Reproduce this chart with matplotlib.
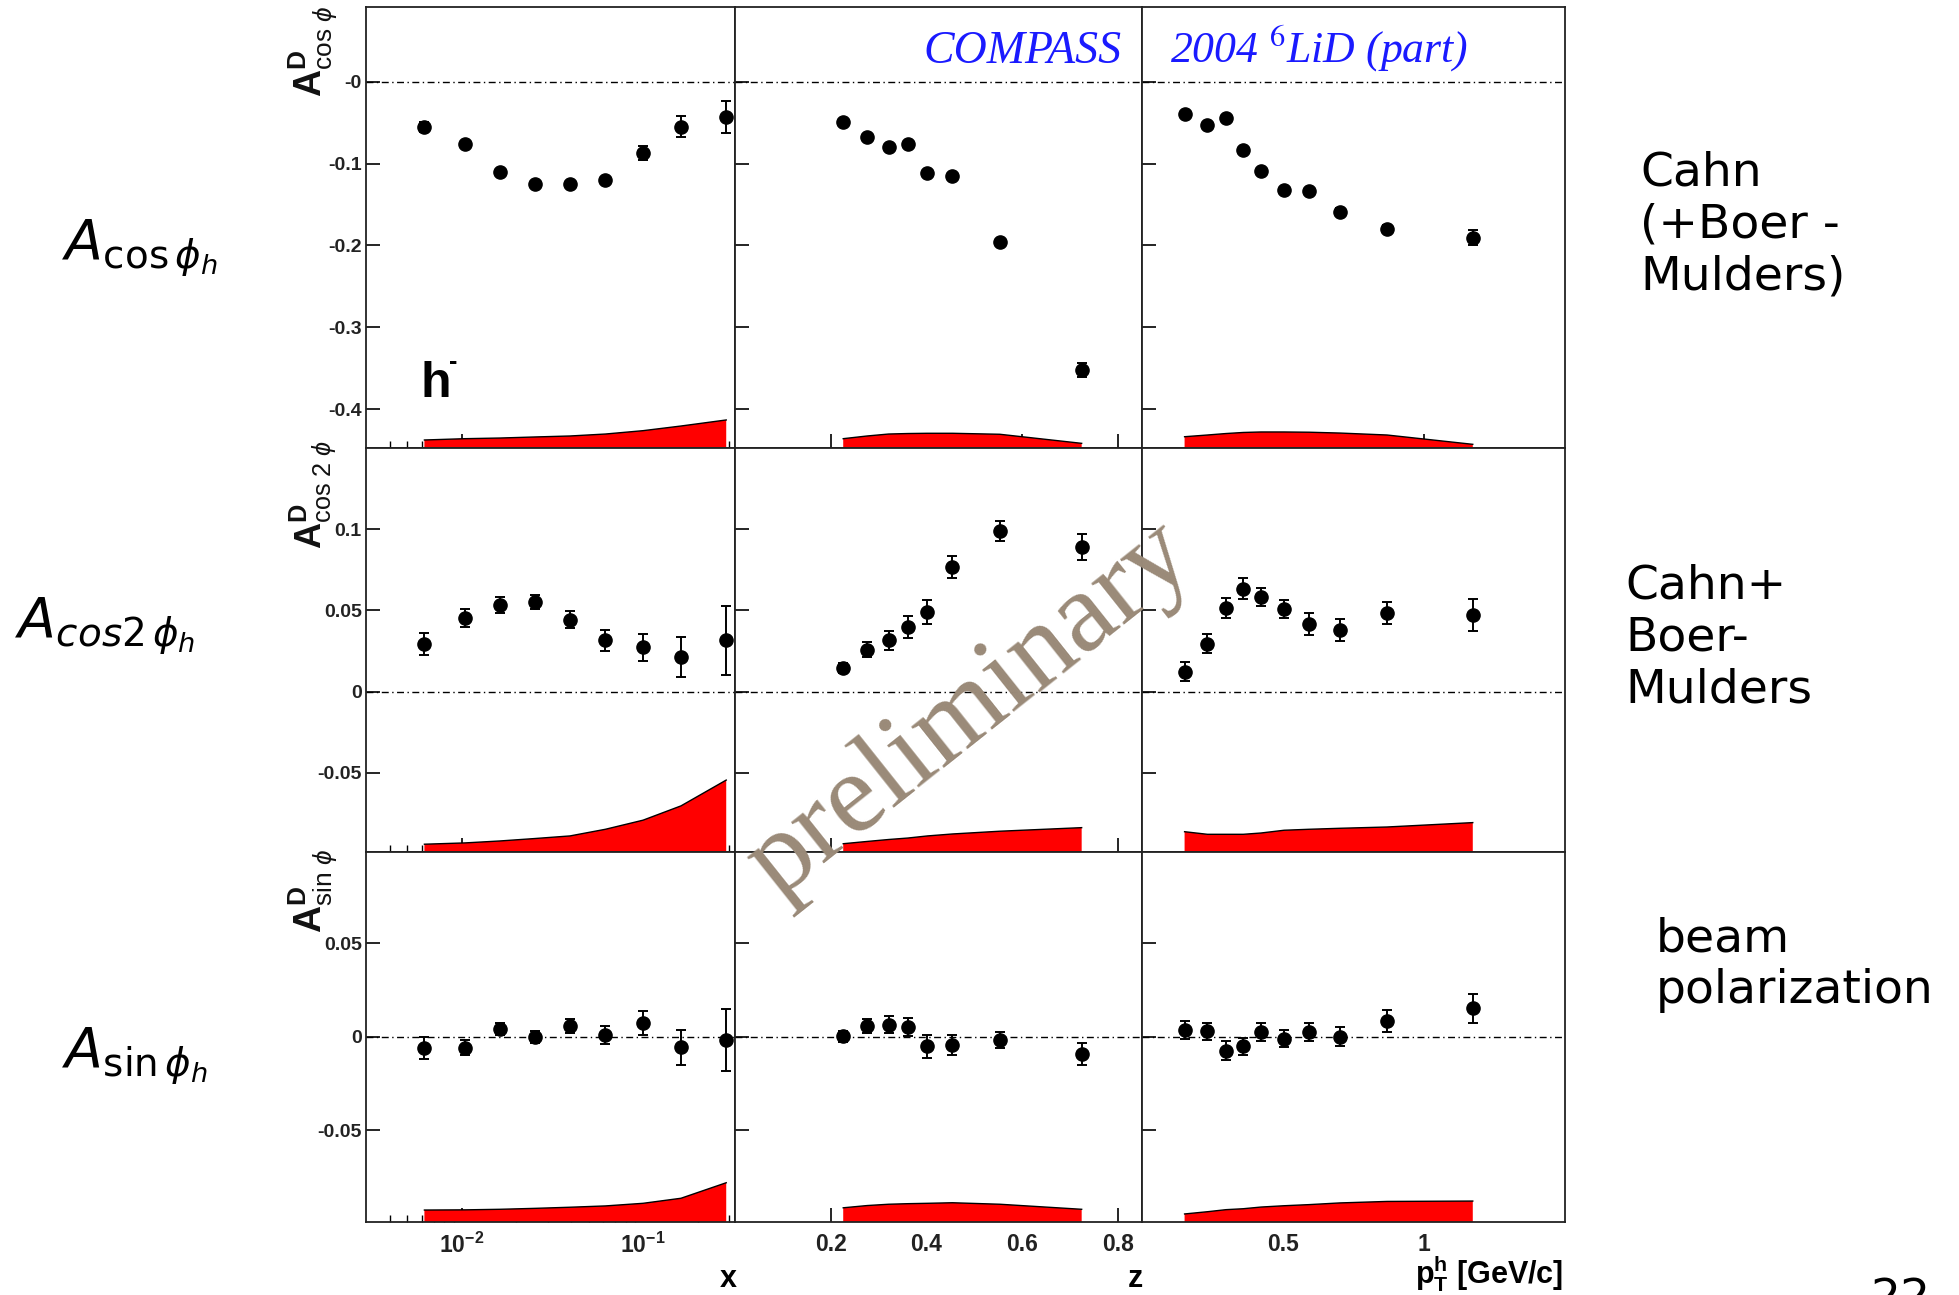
import matplotlib
matplotlib.use("Agg")
import matplotlib.pyplot as plt
from matplotlib.ticker import NullFormatter

plt.rcParams['font.family'] = 'Liberation Sans'
plt.rcParams['mathtext.fontset'] = 'custom'
plt.rcParams['mathtext.rm'] = 'Liberation Sans'
plt.rcParams['mathtext.bf'] = 'Liberation Sans:bold'
plt.rcParams['mathtext.it'] = 'Liberation Sans:italic'
plt.rcParams['mathtext.sf'] = 'Liberation Sans'

W, H = 1959, 1295

# kinematic bins (mean values)
x_bins = [0.0062, 0.0104, 0.0162, 0.0253, 0.0395, 0.062, 0.100, 0.162, 0.288]
z_bins = [0.226, 0.276, 0.321, 0.361, 0.402, 0.454, 0.553, 0.724]
pt_bins = [0.151, 0.232, 0.298, 0.359, 0.422, 0.504, 0.593, 0.701, 0.869, 1.173]

# A_cos phi
cos_x = [-0.0547, -0.0758, -0.1101, -0.1244, -0.1244, -0.1195, -0.0869, -0.0547, -0.0428]
cos_x_err = [0.006, 0.003, 0.003, 0.003, 0.003, 0.003, 0.008, 0.0127, 0.020]
cos_x_sys = [0.0098, 0.0114, 0.0122, 0.0135, 0.0147, 0.0171, 0.0212, 0.0269, 0.0343]
cos_z = [-0.0493, -0.0669, -0.0791, -0.0758, -0.1113, -0.1150, -0.1961, -0.3523]
cos_z_err = [0.003, 0.003, 0.003, 0.003, 0.003, 0.004, 0.004, 0.008]
cos_z_sys = [0.0114, 0.0147, 0.0171, 0.0177, 0.0180, 0.0180, 0.0168, 0.0057]
cos_pt = [-0.0395, -0.0530, -0.0440, -0.0838, -0.1095, -0.1321, -0.1333, -0.1590, -0.1794, -0.1905]
cos_pt_err = [0.003, 0.003, 0.003, 0.003, 0.003, 0.003, 0.003, 0.005, 0.004, 0.009]
cos_pt_sys = [0.0138, 0.0159, 0.0177, 0.0190, 0.0196, 0.0196, 0.0193, 0.0183, 0.0159, 0.0045]

# A_cos 2phi
cos2_x = [0.0294, 0.0452, 0.0531, 0.0551, 0.0443, 0.0317, 0.0273, 0.0212, 0.0315]
cos2_x_err = [0.0069, 0.0054, 0.0049, 0.0043, 0.0052, 0.0065, 0.0082, 0.0125, 0.0215]
cos2_x_sys = [0.0048, 0.0056, 0.0068, 0.0083, 0.0099, 0.0140, 0.0196, 0.0284, 0.0443]
cos2_z = [0.0148, 0.0259, 0.0317, 0.0395, 0.0490, 0.0765, 0.0988, 0.0891]
cos2_z_err = [0.0031, 0.0048, 0.0059, 0.0068, 0.0071, 0.0067, 0.0062, 0.0082]
cos2_z_sys = [0.0051, 0.0065, 0.0077, 0.0086, 0.0099, 0.0111, 0.0128, 0.0150]
cos2_pt = [0.0123, 0.0296, 0.0514, 0.0634, 0.0582, 0.0510, 0.0414, 0.0381, 0.0486, 0.0471]
cos2_pt_err = [0.0057, 0.0057, 0.0063, 0.0063, 0.0057, 0.0054, 0.0067, 0.0067, 0.0067, 0.0101]
cos2_pt_sys = [0.0125, 0.0109, 0.0109, 0.0109, 0.0117, 0.0134, 0.0140, 0.0146, 0.0154, 0.0181]

# A_sin phi
sin_x = [-0.0063, -0.0061, 0.0041, -0.0002, 0.0057, 0.0009, 0.0073, -0.0057, -0.0018]
sin_x_err = [0.0058, 0.0040, 0.0034, 0.0031, 0.0036, 0.0047, 0.0065, 0.0093, 0.0164]
sin_x_sys = [0.0064, 0.0065, 0.0068, 0.0073, 0.0079, 0.0086, 0.0100, 0.0127, 0.0210]
sin_z = [0.0002, 0.0057, 0.0064, 0.0053, -0.0052, -0.0045, -0.0018, -0.0093]
sin_z_err = [0.0029, 0.0037, 0.0047, 0.0048, 0.0061, 0.0053, 0.0044, 0.0060]
sin_z_sys = [0.0076, 0.0088, 0.0095, 0.0098, 0.0100, 0.0103, 0.0095, 0.0068]
sin_pt = [0.0035, 0.0027, -0.0075, -0.0053, 0.0025, -0.0011, 0.0025, 0.0000, 0.0082, 0.0151]
sin_pt_err = [0.0047, 0.0047, 0.0051, 0.0045, 0.0047, 0.0047, 0.0050, 0.0051, 0.0059, 0.0079]
sin_pt_sys = [0.0043, 0.0055, 0.0066, 0.0071, 0.0080, 0.0087, 0.0093, 0.0102, 0.0110, 0.0112]

# axis ranges and tick labels
row_ylims = [(-0.4477, 0.0917), (-0.0988, 0.1500), (-0.0992, 0.0987)]
row_yticks = [[0, -0.1, -0.2, -0.3, -0.4], [0.1, 0.05, 0, -0.05], [0.05, 0, -0.05]]
row_ylabels = [['-0', '-0.1', '-0.2', '-0.3', '-0.4'], ['0.1', '0.05', '0', '-0.05'], ['0.05', '0', '-0.05']]
x_ticks = [0.01, 0.1]
x_ticklabels = [r'$\mathbf{10^{-2}}$', r'$\mathbf{10^{-1}}$']
x_minor = [0.004, 0.005, 0.006, 0.007, 0.008, 0.009, 0.02, 0.03, 0.04, 0.05, 0.06, 0.07, 0.08, 0.09, 0.2, 0.3]
z_ticks = [0.2, 0.4, 0.6, 0.8]
z_ticklabels = ['0.2', '0.4', '0.6', '0.8']
pt_ticks = [0.5, 1.0]
pt_ticklabels = ['0.5', '1']

data = [
    [(cos_x, cos_x_err, cos_x_sys), (cos_z, cos_z_err, cos_z_sys), (cos_pt, cos_pt_err, cos_pt_sys)],
    [(cos2_x, cos2_x_err, cos2_x_sys), (cos2_z, cos2_z_err, cos2_z_sys), (cos2_pt, cos2_pt_err, cos2_pt_sys)],
    [(sin_x, sin_x_err, sin_x_sys), (sin_z, sin_z_err, sin_z_sys), (sin_pt, sin_pt_err, sin_pt_sys)],
]
bins = [x_bins, z_bins, pt_bins]
xlims = [(0.00295, 0.322), (0.0, 0.85), (0.0, 1.5)]

# panel frames in pixels
cols_px = [(366, 735), (735, 1142), (1142, 1565)]
rows_px = [(7, 448), (448, 852), (852, 1222)]


def fx(x):
    return x / W


def fy(y):
    return 1 - y / H


fig = plt.figure(figsize=(W / 100, H / 100), dpi=100)

for r in range(3):
    y0, y1 = rows_px[r]
    ylo, yhi = row_ylims[r]
    for c in range(3):
        x0, x1 = cols_px[c]
        ax = fig.add_axes([fx(x0), fy(y1), (x1 - x0) / W, (y1 - y0) / H])
        vals, errs, syst = data[r][c]
        xs = bins[c]
        if c == 0:
            ax.set_xscale('log')
        ax.set_xlim(*xlims[c])
        ax.set_ylim(ylo, yhi)
        ax.set_axisbelow(True)

        ax.axhline(0, color='black', lw=1.0, ls=(0, (5, 2.5, 1, 2.5)), zorder=1.5, clip_on=False)
        top = [ylo + s for s in syst]
        ax.fill_between(xs, ylo, top, facecolor='#ff0000', edgecolor='none', zorder=2)
        ax.plot(xs, top, color='black', lw=1.0, zorder=2.1)
        ax.errorbar(xs, vals, yerr=errs, fmt='o', color='black', ms=9.5,
                    capsize=3.5, elinewidth=1.4, capthick=1.4, zorder=4)

        for sp in ax.spines.values():
            sp.set_linewidth(1.3)
            sp.set_color('#222222')

        ax.set_yticks(row_yticks[r])
        if c == 0:
            ax.set_yticklabels(row_ylabels[r])
        else:
            ax.yaxis.set_major_formatter(NullFormatter())

        if c == 0:
            ax.set_xticks(x_ticks, labels=x_ticklabels)
            ax.set_xticks(x_minor, minor=True)
            ax.xaxis.set_minor_formatter(NullFormatter())
        elif c == 1:
            ax.set_xticks(z_ticks, labels=z_ticklabels)
            ax.set_xticks([], minor=True)
        else:
            ax.set_xticks(pt_ticks, labels=pt_ticklabels)
            ax.set_xticks([], minor=True)

        ax.tick_params(axis='y', which='both', direction='in', length=10, width=1.2,
                       left=True, right=False, pad=3, labelsize=14, labelcolor='#222222')
        ax.tick_params(axis='x', which='major', direction='in', length=10, width=1.2,
                       bottom=True, top=False, pad=8, labelsize=16.5, labelcolor='#222222')
        ax.tick_params(axis='x', which='minor', direction='in', length=5, width=1.0,
                       bottom=True, top=False)
        if r < 2:
            ax.tick_params(axis='x', labelbottom=False)
        for lab in ax.get_xticklabels() + ax.get_yticklabels():
            lab.set_fontweight('bold')

# ROOT-style y axis titles
ytitles = [r'$\mathbf{A}^{\mathbf{D}}_{\mathrm{cos}\ \phi}$',
           r'$\mathbf{A}^{\mathbf{D}}_{\mathrm{cos\ 2}\ \phi}$',
           r'$\mathbf{A}^{\mathbf{D}}_{\mathrm{sin}\ \phi}$']
ytitle_pos = [(313, 6), (313, 440), (313, 849)]
ytitle_size = [27, 26, 27]
for t, (px, py), fs in zip(ytitles, ytitle_pos, ytitle_size):
    fig.text(fx(px), fy(py), t, rotation=90, ha='center', va='top', fontsize=fs, color='#111111')

# x axis titles
fig.text(fx(737), fy(1287), 'x', ha='right', va='baseline', fontsize=22, fontweight='bold')
fig.text(fx(1143), fy(1287), 'z', ha='right', va='baseline', fontsize=22, fontweight='bold')
fig.text(fx(1563), fy(1283), r'$\mathbf{p}^{\mathbf{h}}_{\mathbf{T}}$ [GeV/c]', ha='right',
         va='baseline', fontsize=22, fontweight='bold')

# h- label
fig.text(fx(421), fy(397), 'h', ha='left', va='baseline', fontsize=36, fontweight='bold')
fig.text(fx(449), fy(362), '-', ha='left', va='center', fontsize=18, fontweight='bold')

# experiment labels
fig.text(fx(923), fy(63), 'COMPASS', ha='left', va='baseline', fontsize=33,
         family='Liberation Serif', style='italic', color='#1a1aff')
fig.text(fx(1170), fy(63), r'2004 $^{\mathit{6}}$LiD (part)', ha='left', va='baseline', fontsize=31.5,
         family='Liberation Serif', style='italic', color='#1a1aff', math_fontfamily='stix')

# watermark
fig.text(fx(970), fy(710), 'preliminary', ha='center', va='center', rotation=38.5,
         rotation_mode='anchor', fontsize=83, family='Liberation Serif', color='#9a8a78', zorder=10)

# slide annotations
left_labels = [r'$A_{\cos\phi_h}$', r'$A_{cos2\,\phi_h}$', r'$A_{\sin\phi_h}$']
left_pos = [(62, 259), (15, 637), (62, 1067)]
for t, (px, py) in zip(left_labels, left_pos):
    fig.text(fx(px), fy(py), t, ha='left', va='baseline', fontsize=40, math_fontfamily='dejavusans')

right_labels = ['Cahn\n(+Boer -\nMulders)', 'Cahn+\nBoer-\nMulders', 'beam\npolarization']
right_pos = [(1640, 150), (1625, 564), (1656, 916)]
for t, (px, py) in zip(right_labels, right_pos):
    fig.text(fx(px), fy(py), t, ha='left', va='top', fontsize=34, family='DejaVu Sans', linespacing=1.2)

fig.text(fx(1870), fy(1277), '22', ha='left', va='top', fontsize=34, family='DejaVu Sans')

fig.savefig('out.png', dpi=100)
